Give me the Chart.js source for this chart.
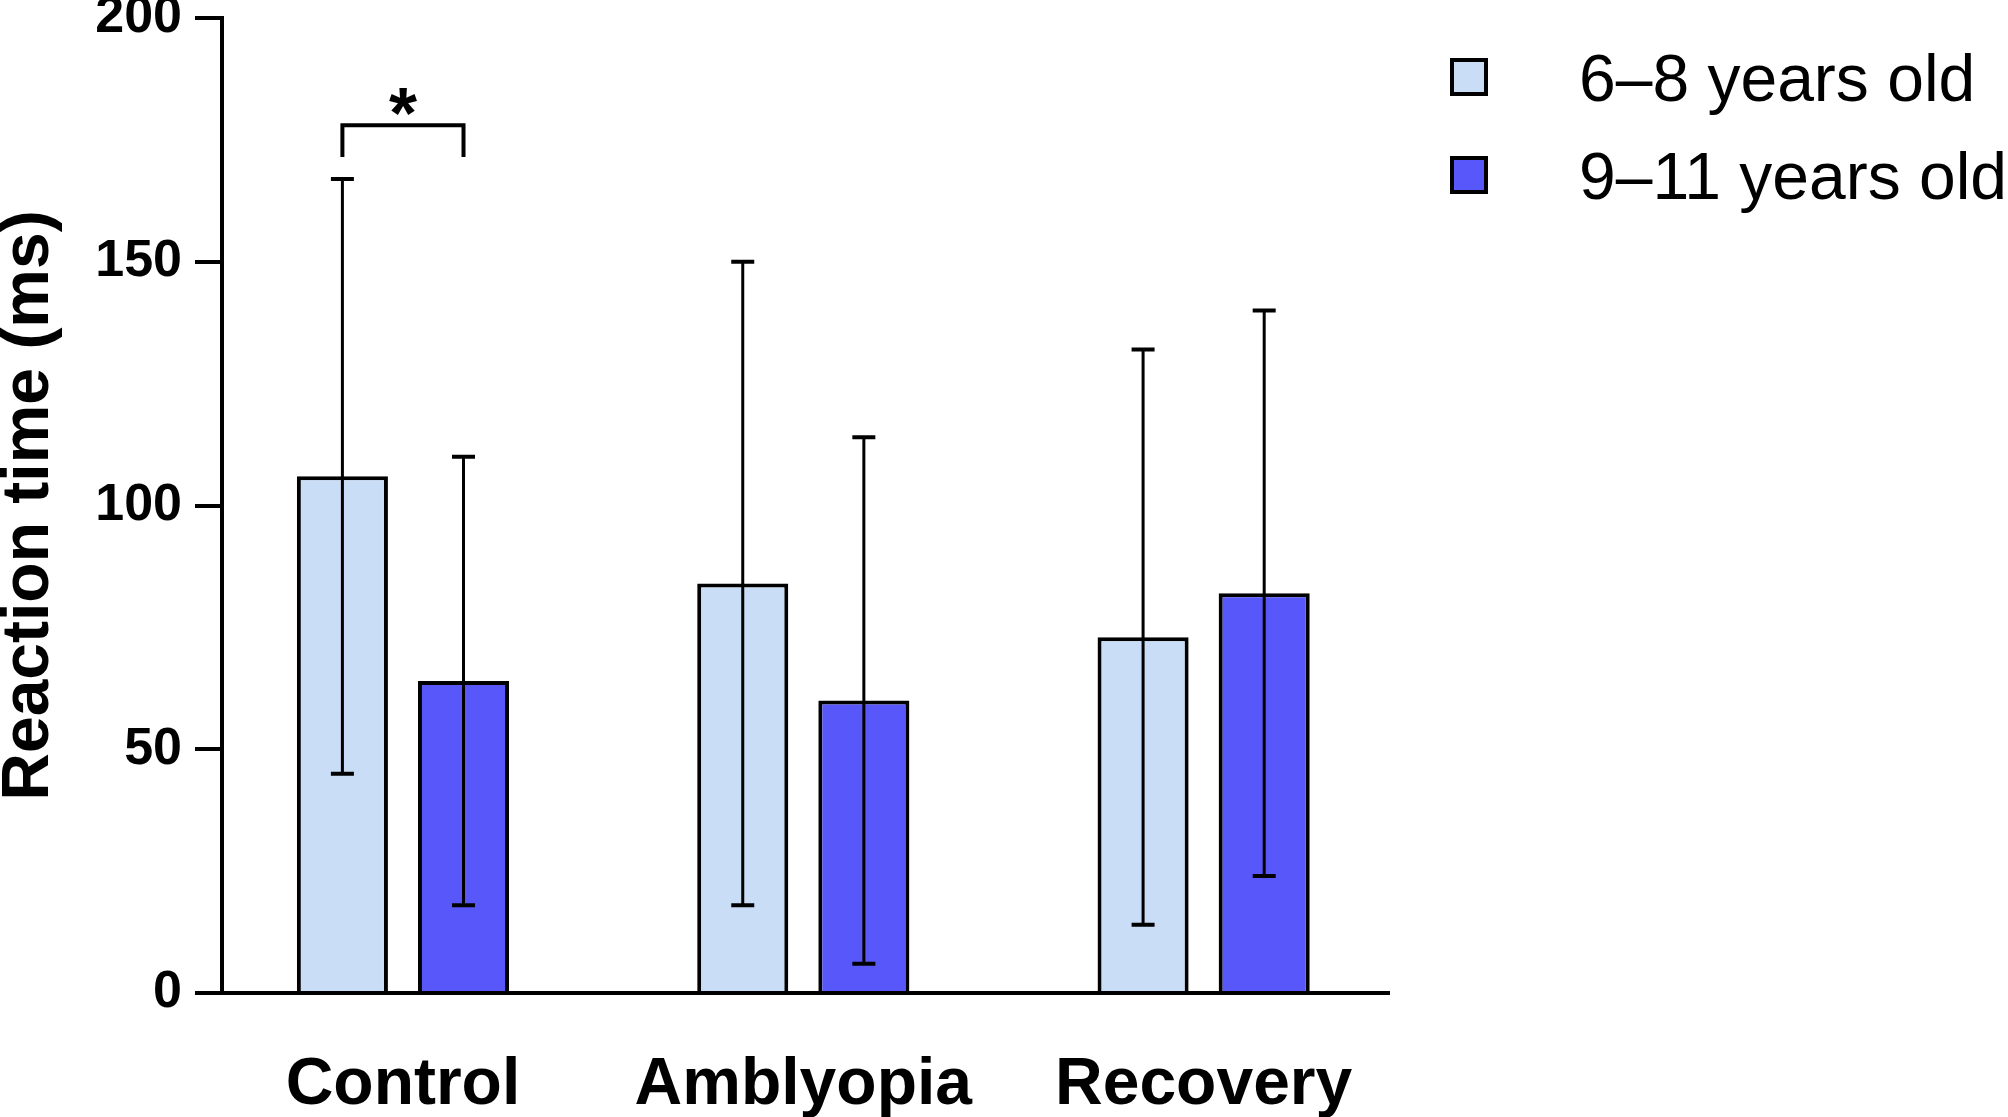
<!DOCTYPE html>
<html>
<head>
<meta charset="utf-8">
<script src="https://cdn.jsdelivr.net/npm/chart.js@4.4.1/dist/chart.umd.min.js"></script>
<style>
  html, body { margin: 0; padding: 0; background: #fff; }
  #wrap { width: 2008px; height: 1117px; }
</style>
</head>
<body>
<div id="wrap"><canvas id="chart"></canvas></div>
<script>
const categories = ['Control', 'Amblyopia', 'Recovery'];
const groupLabels = ['6–8 years old', '9–11 years old'];
const meanYounger = [106, 84, 73];
const sdYounger = [61, 66, 59];
const meanOlder = [64, 60, 82];
const sdOlder = [46, 54, 58];
const yTicks = [0, 50, 100, 150, 200];

// significance bracket over the Control pair: bracket top and leg end, in ms
const sigGroup = 0;
const sigBracket = [178, 171.5];
const sigLabel = '*';

const FONT = "'Liberation Sans', Arial, Helvetica, sans-serif";
const LIGHT = '#C9DDF7';
const DARK = '#5858FA';

Chart.defaults.font.family = FONT;
Chart.defaults.color = '#000';

// x runs on a linear scale so the group spacing can be wider than the drawn axis allows
const toPoints = (means) => means.map((v, i) => ({ x: i, y: v }));

const errorBars = {
  id: 'errorBars',
  afterDatasetsDraw(chart) {
    const { ctx } = chart;
    const y = chart.scales.y;
    ctx.save();
    ctx.strokeStyle = '#000';
    ctx.lineCap = 'butt';
    chart.data.datasets.forEach((ds, di) => {
      chart.getDatasetMeta(di).data.forEach((bar, i) => {
        const m = ds.data[i].y, s = ds.sd[i];
        const top = y.getPixelForValue(m + s);
        const bot = y.getPixelForValue(m - s);
        ctx.lineWidth = 3;
        ctx.beginPath();
        ctx.moveTo(bar.x, bot);
        ctx.lineTo(bar.x, top);
        ctx.stroke();
        ctx.lineWidth = 4;
        ctx.beginPath();
        ctx.moveTo(bar.x - 11.5, top); ctx.lineTo(bar.x + 11.5, top);
        ctx.moveTo(bar.x - 11.5, bot); ctx.lineTo(bar.x + 11.5, bot);
        ctx.stroke();
      });
    });
    ctx.restore();
  }
};

const sigMarker = {
  id: 'sigMarker',
  afterDatasetsDraw(chart) {
    const { ctx } = chart;
    const y = chart.scales.y;
    const a = chart.getDatasetMeta(0).data[sigGroup];
    const b = chart.getDatasetMeta(1).data[sigGroup];
    const top = y.getPixelForValue(sigBracket[0]);
    const leg = y.getPixelForValue(sigBracket[1]);
    ctx.save();
    ctx.lineWidth = 4;
    ctx.strokeStyle = '#000';
    ctx.lineJoin = 'miter';
    ctx.beginPath();
    ctx.moveTo(a.x, leg);
    ctx.lineTo(a.x, top);
    ctx.lineTo(b.x, top);
    ctx.lineTo(b.x, leg);
    ctx.stroke();
    ctx.font = `bold 72px ${FONT}`;
    ctx.fillStyle = '#000';
    ctx.textAlign = 'center';
    ctx.textBaseline = 'alphabetic';
    ctx.fillText(sigLabel, (a.x + b.x) / 2, top + 13);
    ctx.restore();
  }
};

// legend sits far from its swatches, which the built-in legend can't do
const sideLegend = {
  id: 'sideLegend',
  afterDraw(chart, args, opts) {
    const { ctx } = chart;
    ctx.save();
    chart.data.datasets.forEach((ds, i) => {
      const cy = opts.top + i * opts.rowGap;
      const half = opts.box / 2;
      ctx.fillStyle = ds.backgroundColor;
      ctx.fillRect(opts.boxX, cy - half, opts.box, opts.box);
      ctx.lineWidth = 4;
      ctx.strokeStyle = '#000';
      ctx.strokeRect(opts.boxX + 2, cy - half + 2, opts.box - 4, opts.box - 4);
      ctx.font = `66px ${FONT}`;
      ctx.fillStyle = '#000';
      ctx.textAlign = 'left';
      ctx.textBaseline = 'middle';
      ctx.fillText(ds.label, opts.textX, cy + opts.textShift);
    });
    ctx.restore();
  }
};

new Chart(document.getElementById('chart').getContext('2d'), {
  type: 'bar',
  data: {
    datasets: [
      { label: groupLabels[0], data: toPoints(meanYounger), sd: sdYounger, backgroundColor: LIGHT, borderColor: '#000', borderWidth: 4 },
      { label: groupLabels[1], data: toPoints(meanOlder), sd: sdOlder, backgroundColor: DARK, borderColor: '#000', borderWidth: 4 }
    ]
  },
  options: {
    responsive: true,
    maintainAspectRatio: false,
    animation: false,
    layout: { padding: { top: 18, right: 619, left: 0, bottom: 0 } },
    datasets: { bar: { categoryPercentage: 0.605, barPercentage: 0.752 } },
    plugins: {
      legend: { display: false },
      tooltip: { enabled: false },
      sideLegend: { boxX: 1450, box: 38, top: 77, rowGap: 98, textX: 1579, textShift: 6 }
    },
    scales: {
      x: {
        type: 'linear',
        offset: false,
        min: -0.452,
        max: 2.463,
        afterBuildTicks: (s) => { s.ticks = categories.map((c, i) => ({ value: i })); },
        afterFit: (s) => { s.height = 124; s.paddingLeft = 0; s.paddingRight = 0; },
        ticks: {
          callback: (v) => categories[v] ?? '',
          font: { size: 66, weight: 'bold' },
          padding: 53,
          maxRotation: 0,
          autoSkip: false
        },
        grid: { display: false, drawTicks: false },
        border: { display: true, color: '#000', width: 4 }
      },
      y: {
        min: 0,
        max: 200,
        afterBuildTicks: (s) => { s.ticks = yTicks.map(v => ({ value: v })); },
        afterFit: (s) => { s.width = 222; s.paddingTop = 0; s.paddingBottom = 0; },
        ticks: { font: { size: 52, weight: 'bold' }, padding: 13 },
        grid: { drawOnChartArea: false, drawTicks: true, tickLength: 27, color: '#000', lineWidth: 4 },
        border: { color: '#000', width: 4 },
        title: {
          display: true,
          text: 'Reaction time (ms)',
          font: { size: 66, weight: 'bold', lineHeight: 0.9 },
          padding: 0
        }
      }
    }
  },
  plugins: [errorBars, sigMarker, sideLegend]
});
</script>
</body>
</html>
